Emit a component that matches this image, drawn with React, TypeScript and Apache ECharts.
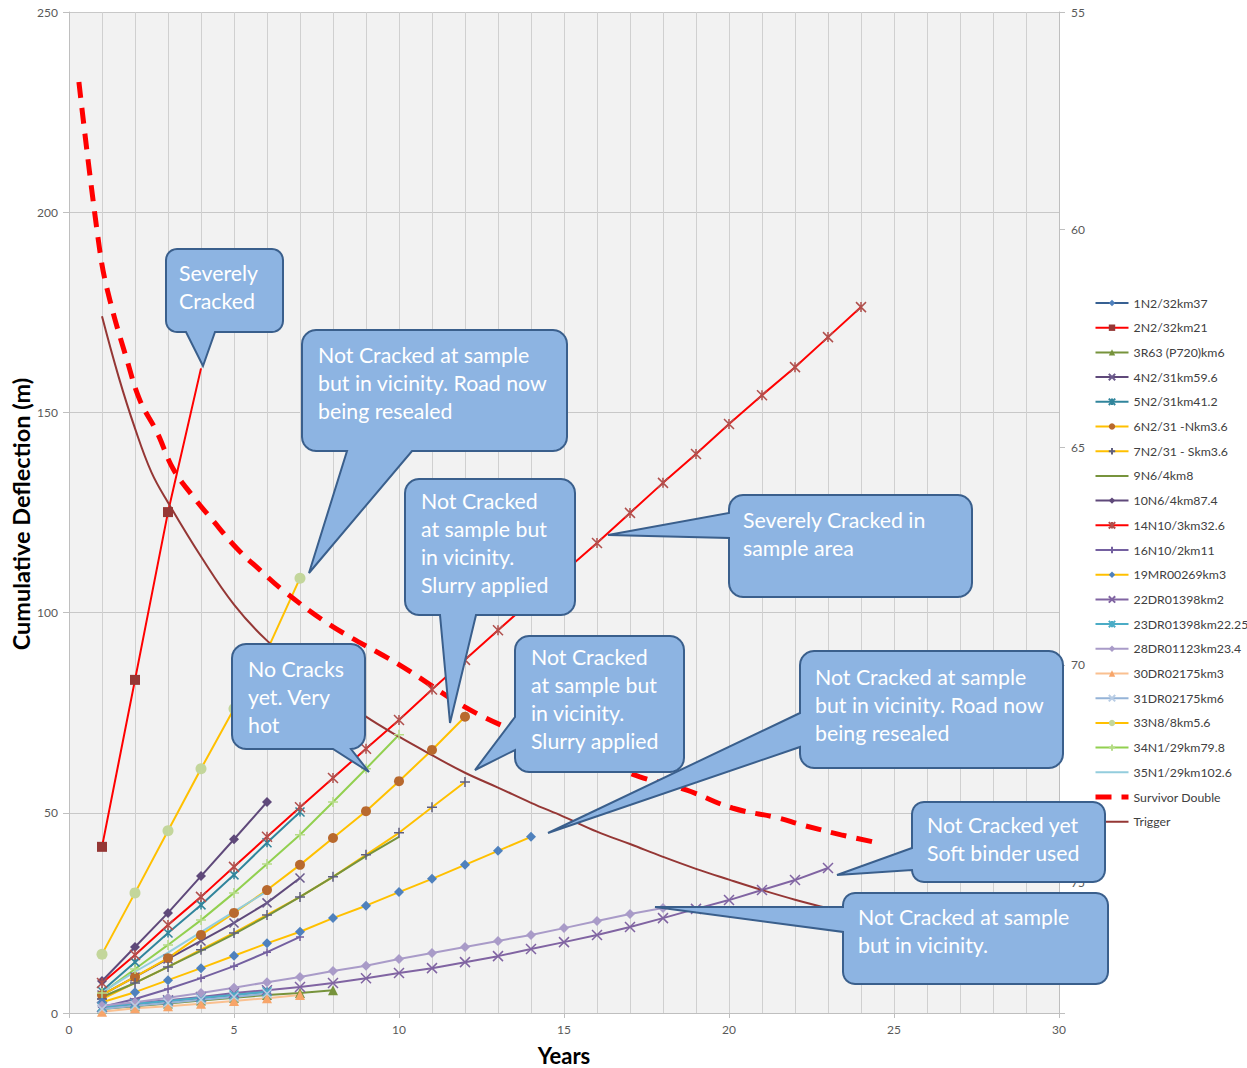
import React, { useEffect, useRef } from 'react';
import * as echarts from 'echarts';

// ---- data (values per year, starting at year 1) ----
const d1N2 = [1.5, 2.2, 3.0, 3.7, 4.5, 5.3];
const d2N2 = [41.5, 83.2, 125.1, 161];
const d3R63 = [1.0, 1.7, 2.4, 3.1, 3.8, 4.5, 5.0, 5.7];
const d4N2 = [4.5, 9.0, 13.5, 18.0, 22.5, 27.5, 33.7];
const d5N2 = [5.5, 12.7, 20.0, 27.0, 34.5, 42.5, 50.2];
const d6N2 = [4.5, 9.0, 13.7, 19.5, 25.0, 30.7, 37.0, 43.7, 50.4, 57.9, 65.7, 74.0];
const d7N2 = [3.5, 7.5, 11.5, 15.8, 20.0, 24.5, 29.0, 34.0, 39.5, 45.0, 51.4, 57.7];
const d9N6 = [4.0, 7.5, 11.5, 15.5, 19.7, 24.2, 29.0, 34.0, 39.2, 44.0];
const d10N6 = [8.0, 16.5, 25.0, 34.2, 43.4, 52.7];
const d14N10 = [7.5, 14.5, 22.0, 29.0, 36.5, 44.0, 51.4, 58.7, 66.0, 73.2, 80.8, 88.2, 95.6, 102.9, 110.2, 117.4, 124.9, 132.4, 139.6, 147.1, 154.3, 161.3, 168.8, 176.3];
const d16N10 = [1.5, 3.5, 6.0, 8.7, 11.7, 15.2, 19.0];
const d19MR = [2.7, 5.2, 8.2, 11.2, 14.3, 17.4, 20.3, 23.7, 26.8, 30.2, 33.5, 37.0, 40.5, 44.0];
const d22DR = [1.5, 2.5, 3.2, 4.0, 5.0, 5.7, 6.5, 7.5, 8.7, 10.0, 11.2, 12.7, 14.2, 16.0, 17.7, 19.5, 21.5, 23.7, 26.0, 28.2, 30.7, 33.2, 36.2];
const d23DR = [1.5, 2.3, 3.0, 3.8, 4.5, 5.3];
const d28DR = [1.8, 2.7, 3.8, 5.0, 6.3, 7.7, 9.0, 10.5, 11.8, 13.5, 15.0, 16.5, 18.0, 19.5, 21.2, 23.0, 24.7, 26.2];
const d30DR = [0.3, 1.2, 1.7, 2.3, 3.0, 3.7, 4.5];
const d31DR = [1.0, 1.8, 2.5, 3.3, 4.0, 4.8];
const d33N8 = [14.7, 30.0, 45.5, 61.0, 76.0, 90.5, 108.6];
const d34N1 = [5.0, 11.0, 17.0, 23.2, 30.0, 37.2, 44.5, 52.7, 61.0, 69.5];
const d35N1 = [5.2, 10.3, 15.1, 20.2, 25.3, 30.4];

const survivorX = [0.3, 0.94, 1.24, 1.76, 2.15, 2.67, 3.15, 3.76, 4.36, 5.09, 5.79, 6.48, 7.9, 10, 12.45, 15, 17.3, 18.7, 20.1, 21.5, 22.2, 23.4, 24.5];
const survivorY = [232.5, 190, 178, 163, 153, 145, 136, 129, 123, 116, 110.6, 105.6, 97, 87, 74.4, 66, 59, 55.7, 51.2, 48.7, 47, 44.5, 42.5];

const triggerX = [1, 1.5, 2, 2.5, 3, 4, 5, 6, 7, 8, 9, 10, 11, 12, 13, 14, 15, 16, 17, 18, 19, 20, 21, 22, 23, 24];
const triggerY = [174, 159, 146, 135, 127.5, 114, 102, 93, 86.5, 80, 74, 69, 64.4, 60, 56.3, 52.5, 49, 45.3, 42.2, 39, 36, 33.3, 30.7, 28.3, 26.2, 24.5];

const leftTicks = [0, 50, 100, 150, 200, 250];
const rightTicks = [55, 60, 65, 70, 75];

// ---- styles ----
const X_MARK = 'path://M0,0L10,10M0,10L10,0';
const STAR_MARK = 'path://M0,0L10,10M0,10L10,0M5,0L5,10';
const PLUS_MARK = 'path://M5,0L5,10M0,5L10,5';
const FONT = 'Lato, "Liberation Sans", sans-serif';
const CLEAR = 'rgba(0,0,0,0)';

const defs = [
  { name: '1N2/32km37', data: d1N2, line: '#376092', mark: '#4F81BD', symbol: 'diamond', size: 9 },
  { name: '2N2/32km21', data: d2N2, line: '#FF0000', mark: '#953735', symbol: 'rect', size: 10, hideLast: true },
  { name: '3R63 (P720)km6', data: d3R63, line: '#77933C', mark: '#77933C', symbol: 'triangle', size: 10 },
  { name: '4N2/31km59.6', data: d4N2, line: '#5F497A', mark: '#6B5A8C', symbol: X_MARK, size: 9 },
  { name: '5N2/31km41.2', data: d5N2, line: '#31859C', mark: '#31859C', symbol: STAR_MARK, size: 9 },
  { name: '6N2/31 -Nkm3.6', data: d6N2, line: '#FFC000', mark: '#B8692E', symbol: 'circle', size: 10 },
  { name: '7N2/31 - Skm3.6', data: d7N2, line: '#FFC000', mark: '#5F5F7F', symbol: PLUS_MARK, size: 10 },
  { name: '9N6/4km8', data: d9N6, line: '#77933C', mark: CLEAR, symbol: 'none', size: 0 },
  { name: '10N6/4km87.4', data: d10N6, line: '#5F497A', mark: '#5F497A', symbol: 'diamond', size: 10 },
  { name: '14N10/3km32.6', data: d14N10, line: '#FF0000', mark: '#B0504D', symbol: STAR_MARK, size: 10 },
  { name: '16N10/2km11', data: d16N10, line: '#7460A0', mark: '#7460A0', symbol: PLUS_MARK, size: 8 },
  { name: '19MR00269km3', data: d19MR, line: '#FFC000', mark: '#4F81BD', symbol: 'diamond', size: 10 },
  { name: '22DR01398km2', data: d22DR, line: '#8064A2', mark: '#8064A2', symbol: X_MARK, size: 10 },
  { name: '23DR01398km22.25', data: d23DR, line: '#4BACC6', mark: '#4BACC6', symbol: STAR_MARK, size: 9 },
  { name: '28DR01123km23.4', data: d28DR, line: '#A99BC8', mark: '#A99BC8', symbol: 'diamond', size: 10 },
  { name: '30DR02175km3', data: d30DR, line: '#FAC090', mark: '#F7A56A', symbol: 'triangle', size: 10 },
  { name: '31DR02175km6', data: d31DR, line: '#95B3D7', mark: '#B9CDE5', symbol: X_MARK, size: 9 },
  { name: '33N8/8km5.6', data: d33N8, line: '#FFC000', mark: '#C3D69B', symbol: 'circle', size: 11 },
  { name: '34N1/29km79.8', data: d34N1, line: '#92D050', mark: '#B5DC86', symbol: PLUS_MARK, size: 10 },
  { name: '35N1/29km102.6', data: d35N1, line: '#93CDDD', mark: CLEAR, symbol: 'none', size: 0 },
];

const callouts = [
  { box: [166, 249, 283, 332], r: 11, side: 'bottom', base: [186, 215], tip: [203, 366], text: 'Severely\nCracked', tx: 179, ty: 259 },
  { box: [302, 330, 567, 451], r: 14, side: 'bottom', base: [347, 412], tip: [309, 573], text: 'Not Cracked at sample\nbut in vicinity. Road now\nbeing resealed', tx: 318, ty: 341 },
  { box: [405, 479, 575, 615], r: 14, side: 'bottom', base: [440, 476], tip: [450, 723], text: 'Not Cracked\nat sample but\nin vicinity.\nSlurry applied', tx: 421, ty: 487 },
  { box: [729, 495, 972, 597], r: 14, side: 'left', base: [513, 538], tip: [608, 535], text: 'Severely Cracked in\nsample area', tx: 743, ty: 506 },
  { box: [232, 644, 365, 749], r: 14, side: 'bottom', base: [333, 351], tip: [369, 772], text: 'No Cracks\nyet. Very\nhot', tx: 248, ty: 655 },
  { box: [515, 636, 684, 772], r: 14, side: 'left', base: [717, 750], tip: [475, 770], text: 'Not Cracked\nat sample but\nin vicinity.\nSlurry applied', tx: 531, ty: 643 },
  { box: [800, 651, 1063, 768], r: 14, side: 'left', base: [713, 747], tip: [548, 833], text: 'Not Cracked at sample\nbut in vicinity. Road now\nbeing resealed', tx: 815, ty: 663 },
  { box: [912, 802, 1105, 882], r: 12, side: 'left', base: [848, 870], tip: [837, 875], text: 'Not Cracked yet\nSoft binder used', tx: 927, ty: 811 },
  { box: [843, 893, 1108, 984], r: 12, side: 'left', base: [907, 932], tip: [655, 907], text: 'Not Cracked at sample\nbut in vicinity.', tx: 858, ty: 903 },
];

function arc(cx: number, cy: number, r: number, a0: number, a1: number) {
  const pts: number[][] = [];
  const n = 6;
  for (let i = 0; i <= n; i++) {
    const a = ((a0 + (a1 - a0) * (i / n)) * Math.PI) / 180;
    pts.push([cx + r * Math.cos(a), cy + r * Math.sin(a)]);
  }
  return pts;
}

function calloutPoints(c: any) {
  const [x0, y0, x1, y1] = c.box;
  const r = c.r;
  let pts: number[][] = [];
  pts.push([x0 + r, y0], [x1 - r, y0]);
  pts = pts.concat(arc(x1 - r, y0 + r, r, -90, 0));
  pts.push([x1, y1 - r]);
  pts = pts.concat(arc(x1 - r, y1 - r, r, 0, 90));
  if (c.side === 'bottom') {
    pts.push([c.base[1], y1], c.tip, [c.base[0], y1]);
  }
  pts.push([x0 + r, y1]);
  pts = pts.concat(arc(x0 + r, y1 - r, r, 90, 180));
  if (c.side === 'left') {
    pts.push([x0, c.base[1]], c.tip, [x0, c.base[0]]);
  }
  pts.push([x0, y0 + r]);
  pts = pts.concat(arc(x0 + r, y0 + r, r, 180, 270));
  return pts;
}

function buildOption() {
  const series: any[] = defs.map((d: any) => {
    const isPath = d.symbol.startsWith('path');
    const noMark = d.symbol === 'none';
    return {
      type: 'line',
      name: d.name,
      yAxisIndex: 0,
      data: d.data.map((v: number, i: number) =>
        d.hideLast && i === d.data.length - 1 ? { value: [i + 1, v], symbol: 'none' } : [i + 1, v]
      ),
      symbol: noMark ? 'circle' : d.symbol,
      symbolSize: noMark ? 0 : d.size,
      showSymbol: !noMark,
      lineStyle: { color: d.line, width: 2 },
      itemStyle: { color: d.mark, borderColor: d.mark, borderWidth: isPath ? 1.5 : 0 },
      emphasis: { disabled: true },
    };
  });
  series.push({
    type: 'line',
    name: 'Survivor Double',
    yAxisIndex: 0,
    data: survivorX.map((x, i) => [x, survivorY[i]]),
    symbol: 'circle',
    symbolSize: 0,
    showSymbol: false,
    smooth: 0.4,
    lineStyle: { color: '#FF0000', width: 5, type: [16, 10] },
    itemStyle: { color: CLEAR, borderColor: CLEAR },
    emphasis: { disabled: true },
  });
  series.push({
    type: 'line',
    name: 'Trigger',
    yAxisIndex: 0,
    data: triggerX.map((x, i) => [x, triggerY[i]]),
    symbol: 'circle',
    symbolSize: 0,
    showSymbol: false,
    smooth: 0.4,
    lineStyle: { color: '#953735', width: 2 },
    itemStyle: { color: CLEAR, borderColor: CLEAR },
    emphasis: { disabled: true },
  });

  const graphics: any[] = [];
  callouts.forEach((c) => {
    graphics.push({
      type: 'polygon',
      z: 100,
      shape: { points: calloutPoints(c) },
      style: { fill: '#8DB4E2', stroke: '#3A5F8C', lineWidth: 2 },
    });
    graphics.push({
      type: 'text',
      z: 101,
      x: c.tx,
      y: c.ty,
      style: {
        text: c.text,
        fill: '#FFFFFF',
        fontSize: 21.3,
        fontFamily: FONT,
        lineHeight: 28,
        align: 'left',
        verticalAlign: 'top',
        textAlign: 'left',
        textVerticalAlign: 'top',
      },
    });
  });
  graphics.push({
    type: 'text',
    z: 101,
    x: 21,
    y: 514,
    rotation: Math.PI / 2,
    style: {
      text: 'Cumulative Deflection (m)',
      fill: '#000',
      fontSize: 23.5,
      fontWeight: 'bold',
      fontFamily: FONT,
      align: 'center',
      verticalAlign: 'middle',
      textAlign: 'center',
      textVerticalAlign: 'middle',
    },
  });
  graphics.push({
    type: 'text',
    z: 101,
    x: 564,
    y: 1055,
    style: {
      text: 'Years',
      fill: '#000',
      fontSize: 22,
      fontWeight: 'bold',
      fontFamily: FONT,
      align: 'center',
      verticalAlign: 'middle',
      textAlign: 'center',
      textVerticalAlign: 'middle',
    },
  });

  const legendData = series.map((s) =>
    s.name === 'Survivor Double' ? { name: s.name, lineStyle: { width: 5 } } : { name: s.name }
  );

  return {
    animation: false,
    backgroundColor: '#FFFFFF',
    grid: {
      left: 69,
      top: 12,
      right: 188,
      bottom: 55,
      show: true,
      backgroundColor: '#F2F2F2',
      borderWidth: 0,
      containLabel: false,
    },
    legend: {
      orient: 'vertical',
      left: 1093,
      top: 296,
      padding: 0,
      itemWidth: 33,
      itemHeight: 8,
      itemGap: 10.7,
      data: legendData,
      textStyle: { fontSize: 12.3, fontFamily: FONT, color: '#404040', lineHeight: 14 },
      selectedMode: false,
    },
    xAxis: {
      type: 'value',
      min: 0,
      max: 30,
      interval: 5,
      axisLine: { show: true, lineStyle: { color: '#BFBFBF', width: 1 } },
      axisTick: { show: true, length: 5, lineStyle: { color: '#BFBFBF' } },
      axisLabel: { color: '#595959', fontSize: 12, fontFamily: FONT, margin: 10 },
      splitLine: { show: true, lineStyle: { color: '#D0D0D0', width: 1 } },
      minorTick: { show: false, splitNumber: 5 },
      minorSplitLine: { show: true, lineStyle: { color: '#D0D0D0', width: 1 } },
    },
    yAxis: [
      {
        type: 'value',
        min: leftTicks[0],
        max: leftTicks[leftTicks.length - 1],
        interval: 50,
        position: 'left',
        axisLine: { show: true, lineStyle: { color: '#BFBFBF', width: 1 } },
        axisTick: { show: true, length: 6, lineStyle: { color: '#BFBFBF' } },
        axisLabel: { color: '#595959', fontSize: 12, fontFamily: FONT, margin: 11 },
        splitLine: { show: true, lineStyle: { color: '#C8C8C8', width: 1 } },
      },
      {
        type: 'value',
        min: 55,
        max: 78,
        interval: 5,
        inverse: true,
        position: 'right',
        axisLine: { show: true, lineStyle: { color: '#BFBFBF', width: 1 } },
        axisTick: { show: true, length: 6, lineStyle: { color: '#BFBFBF' } },
        axisLabel: {
          color: '#595959',
          fontSize: 12,
          fontFamily: FONT,
          margin: 12,
          formatter: (v: number) => (rightTicks.indexOf(v) >= 0 ? String(v) : ''),
        },
        splitLine: { show: false },
      },
    ],
    series,
    graphic: { elements: graphics },
  };
}

export default function App() {
  const ref = useRef<HTMLDivElement>(null);
  useEffect(() => {
    const chart = echarts.init(ref.current!, null, { renderer: 'svg' });
    chart.setOption(buildOption() as any);
    return () => chart.dispose();
  }, []);
  return (
    <div
      ref={ref}
      style={{ position: 'absolute', left: 0, top: 0, width: 1247, height: 1068, background: '#fff' }}
    />
  );
}
